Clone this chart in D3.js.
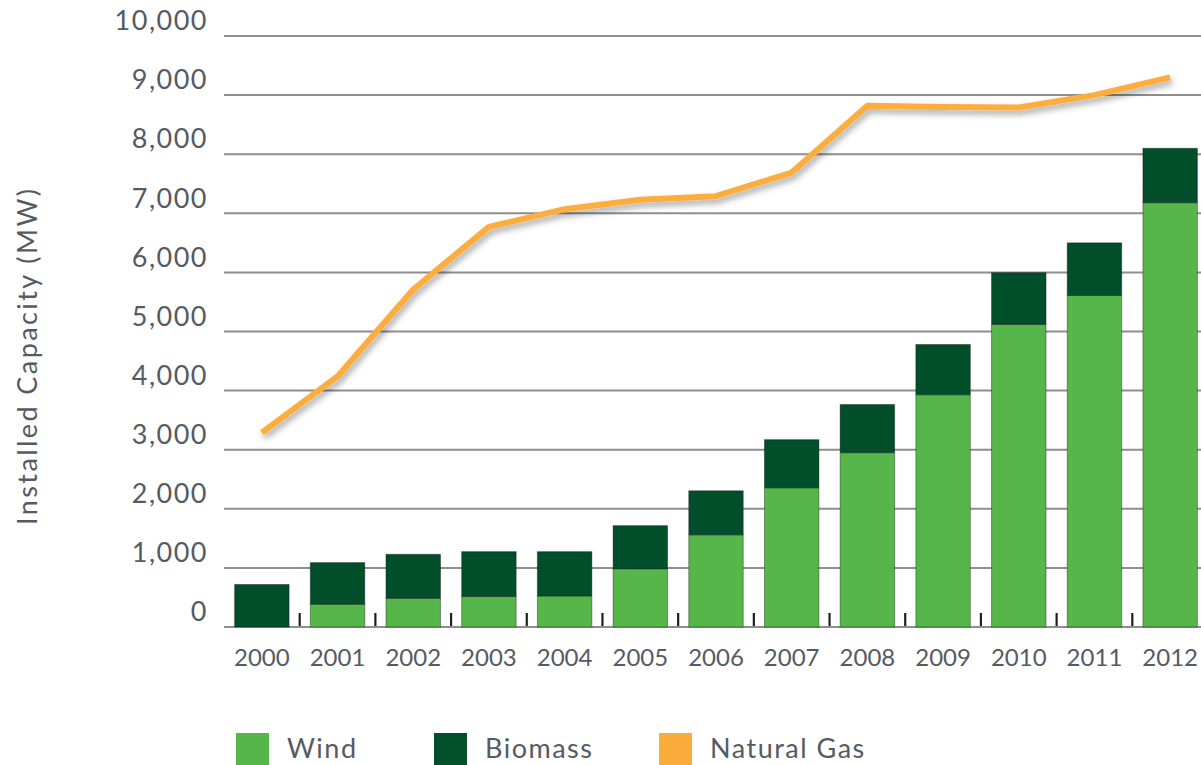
<!DOCTYPE html>
<html>
<head>
<meta charset="utf-8">
<script src="https://cdn.jsdelivr.net/npm/d3@7"></script>
<style>
  html, body { margin: 0; padding: 0; background: #fff; }
  svg { display: block; }
  text { font-family: Lato, "Open Sans", sans-serif; fill: #555a63; }
</style>
</head>
<body>
<svg id="chart" width="1201" height="765"></svg>
<script>
// Installed capacity by year (MW)
const years = ["2000","2001","2002","2003","2004","2005","2006","2007","2008","2009","2010","2011","2012"];
const wind = [0, 385, 485, 515, 525, 985, 1560, 2355, 2950, 3930, 5120, 5610, 7180];
const biomass = [720, 705, 745, 760, 750, 730, 745, 815, 815, 850, 875, 890, 920];
const naturalGas = [3290, 4240, 5710, 6770, 7070, 7230, 7290, 7690, 8820, 8800, 8790, 9000, 9300];
const yTicks = [0, 1000, 2000, 3000, 4000, 5000, 6000, 7000, 8000, 9000, 10000];
const seriesNames = ["Wind", "Biomass", "Natural Gas"];
const colors = { Wind: "#56b64a", Biomass: "#024f2b", "Natural Gas": "#fbad3c" };

const svg = d3.select("#chart");
const plotLeft = 224, plotRight = 1208, plotBottom = 627, plotTop = 36;

const x = d3.scaleBand().domain(years).range([plotLeft, plotRight]).paddingInner(0.28).paddingOuter(0.14);
const y = d3.scaleLinear().domain([0, 10000]).range([plotBottom, plotTop]);

const defs = svg.append("defs");
const shadow = defs.append("filter").attr("id", "lineShadow")
  .attr("x", "-10%").attr("y", "-20%").attr("width", "120%").attr("height", "140%");
shadow.append("feDropShadow").attr("dx", 2).attr("dy", 4).attr("stdDeviation", 3)
  .attr("flood-color", "#000").attr("flood-opacity", 0.35);
const soft = defs.append("filter").attr("id", "soft");
soft.append("feGaussianBlur").attr("stdDeviation", 0.5);

// Horizontal gridlines
svg.append("g").attr("filter", "url(#soft)")
  .selectAll("line").data(yTicks).join("line")
  .attr("x1", plotLeft).attr("x2", 1201)
  .attr("y1", d => y(d)).attr("y2", d => y(d))
  .attr("stroke", "#8e8e8e").attr("stroke-width", 2);

// Left axis line
svg.append("line").attr("x1", plotLeft).attr("x2", plotLeft)
  .attr("y1", y(10000)).attr("y2", y(0))
  .attr("stroke", "#8e8e8e").attr("stroke-width", 2).attr("filter", "url(#soft)");

// Y axis labels
const yAxis = svg.append("g").attr("transform", `translate(${plotLeft},0)`)
  .call(d3.axisLeft(y).tickValues(yTicks).tickFormat(d3.format(",")).tickSize(0).tickPadding(16));
yAxis.select(".domain").remove();
yAxis.selectAll("text")
  .attr("dy", "-0.12em")
  .attr("y", -3)
  .style("font-size", "27px")
  .style("letter-spacing", "1.5px")
  .style("font-family", "Lato, 'Open Sans', sans-serif")
  .attr("fill", "#555a63");

// Stacked bars
const rows = years.map((yr, i) => ({ year: yr, Wind: wind[i], Biomass: biomass[i] }));
const stack = d3.stack().keys(["Wind", "Biomass"])(rows);
svg.append("g").attr("filter", "url(#soft)")
  .selectAll("g").data(stack).join("g")
  .attr("fill", d => colors[d.key])
  .selectAll("rect").data(d => d.filter(p => p[1] > p[0])).join("rect")
  .attr("x", d => x(d.data.year))
  .attr("width", x.bandwidth())
  .attr("y", d => y(d[1]))
  .attr("height", d => y(d[0]) - y(d[1]))
  .attr("stroke", "rgba(0,0,0,0.35)").attr("stroke-width", 1);

// Small ticks between categories
const step = x.step();
svg.append("g").selectAll("line").data(years.slice(0, -1)).join("line")
  .attr("x1", d => x(d) + x.bandwidth() + (step - x.bandwidth()) / 2)
  .attr("x2", d => x(d) + x.bandwidth() + (step - x.bandwidth()) / 2)
  .attr("y1", plotBottom - 14).attr("y2", plotBottom - 1)
  .attr("stroke", "#1e1e1e").attr("stroke-width", 2.2);

// X axis labels
const xAxis = svg.append("g").attr("transform", `translate(0,${plotBottom})`)
  .call(d3.axisBottom(x).tickSize(0).tickPadding(22));
xAxis.select(".domain").remove();
xAxis.selectAll("text")
  .style("font-size", "24px")
  .style("font-family", "Lato, 'Open Sans', sans-serif")
  .attr("fill", "#555a63");

// Natural gas line
const line = d3.line()
  .x((d, i) => x(years[i]) + x.bandwidth() / 2)
  .y(d => y(d));
svg.append("path").datum(naturalGas)
  .attr("d", line)
  .attr("fill", "none")
  .attr("stroke", colors["Natural Gas"])
  .attr("stroke-width", 6)
  .attr("stroke-linejoin", "round")
  .attr("filter", "url(#lineShadow)");

// Y axis title
svg.append("text")
  .attr("transform", "translate(37,357) rotate(-90)")
  .attr("text-anchor", "middle")
  .attr("textLength", 336)
  .attr("lengthAdjust", "spacing")
  .style("font-size", "27px")
  .text("Installed Capacity (MW)");

// Legend
const legendX = [236, 434, 659];
const legend = svg.append("g").selectAll("g").data(seriesNames).join("g")
  .attr("transform", (d, i) => `translate(${legendX[i]},733)`);
legend.append("rect").attr("width", 33).attr("height", 33).attr("fill", d => colors[d]);
legend.append("text").attr("x", 51).attr("y", 25)
  .style("font-size", "27px")
  .style("letter-spacing", "1.5px")
  .text(d => d);
</script>
</body>
</html>
